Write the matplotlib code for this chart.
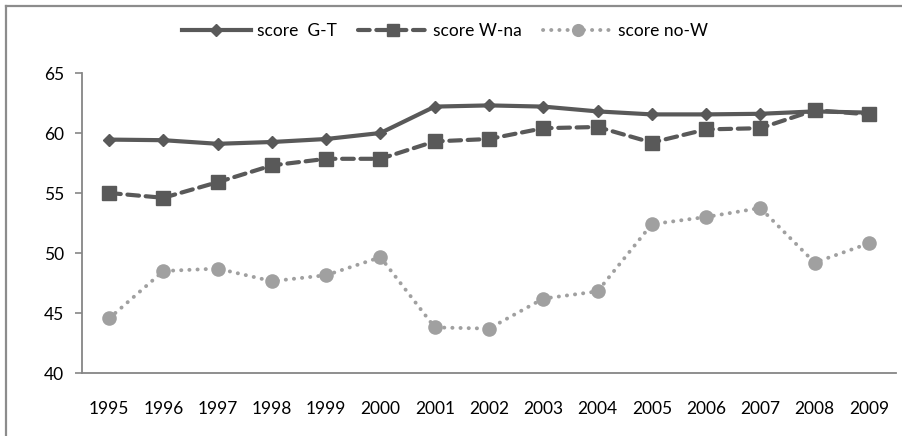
import matplotlib
matplotlib.use("Agg")
import matplotlib.pyplot as plt
from matplotlib.lines import Line2D

years = ["1995", "1996", "1997", "1998", "1999", "2000", "2001", "2002",
         "2003", "2004", "2005", "2006", "2007", "2008", "2009"]
score_gt = [59.45, 59.4, 59.1, 59.25, 59.5, 60.0, 62.2, 62.3, 62.2, 61.8,
            61.55, 61.55, 61.6, 61.8, 61.7]
score_wna = [55.0, 54.6, 55.9, 57.3, 57.85, 57.85, 59.3, 59.5, 60.4, 60.5,
             59.2, 60.3, 60.4, 61.9, 61.55]
score_now = [44.55, 48.5, 48.7, 47.65, 48.15, 49.65, 43.8, 43.7, 46.2, 46.8,
             52.4, 53.0, 53.75, 49.2, 50.8]
labels = ["score  G-T", "score W-na", "score no-W"]
yticks = [40, 45, 50, 55, 60, 65]

plt.rcParams["font.family"] = ["Lato", "DejaVu Sans"]

W, H = 903, 436
fig = plt.figure(figsize=(W / 100, H / 100), dpi=100)
ax = fig.add_axes([82 / W, 1 - 373 / H, (896 - 82) / W, (373 - 73) / H])

dark = "#595959"
light = "#a0a0a0"
x = list(range(len(years)))

l1, = ax.plot(x, score_gt, color=dark, lw=3.0, marker="D", ms=6.5,
              mfc=dark, mec=dark, mew=1, label=labels[0], zorder=3)
l2, = ax.plot(x, score_wna, color=dark, lw=3.0, marker="s", ms=9.5,
              mfc=dark, mec=dark, mew=1, label=labels[1], zorder=4,
              dashes=(2.8, 1.6), dash_capstyle="round")
l3, = ax.plot(x, score_now, color=light, lw=2.8, marker="o", ms=10.5,
              mfc=light, mec=light, mew=0, label=labels[2], zorder=2,
              dashes=(0.05, 2.05), dash_capstyle="round")

ax.set_xlim(-0.5, len(years) - 0.5)
ax.set_ylim(40, 65)
ax.set_yticks(yticks)
ax.set_xticks(x)
ax.set_xticklabels(years)

for s in ["top", "right"]:
    ax.spines[s].set_visible(False)
for s in ["left", "bottom"]:
    ax.spines[s].set_color("#868686")
    ax.spines[s].set_linewidth(1.3)

fs = 12.5
ax.tick_params(axis="y", direction="out", length=5, width=1.2,
               color="#868686", pad=8, labelsize=fs, labelcolor="#000000")
ax.tick_params(axis="x", length=0, pad=20, labelsize=fs,
               labelcolor="#000000")

fig.legend(handles=[l1, l2, l3], loc="center",
           bbox_to_anchor=(445 / W, 1 - 31 / H), ncol=3, frameon=False,
           fontsize=fs, handlelength=4.0, handletextpad=0.35,
           columnspacing=1.2, numpoints=1, markerscale=0.9)

# outer chart border (left and top visible)
fig.add_artist(Line2D([6.5 / W, 6.5 / W], [0, 1 - 6.5 / H],
                      transform=fig.transFigure, color="#8c8c8c", lw=1.6))
fig.add_artist(Line2D([6.5 / W, 1], [1 - 6.5 / H, 1 - 6.5 / H],
                      transform=fig.transFigure, color="#8c8c8c", lw=1.6))

fig.savefig("out.png", dpi=100)
